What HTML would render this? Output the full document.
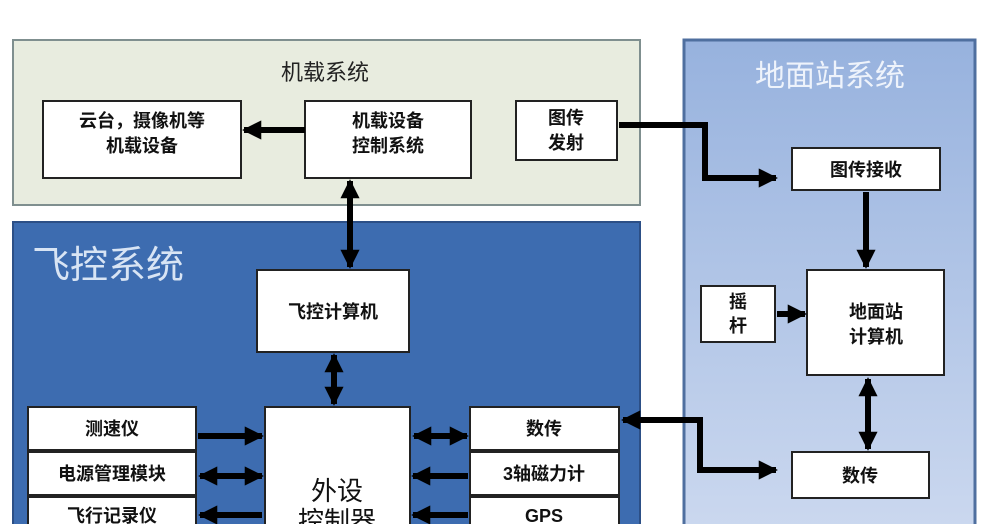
<!DOCTYPE html>
<html><head><meta charset="utf-8"><style>
html,body{margin:0;padding:0;background:#fff;width:1000px;height:524px;overflow:hidden}
text{font-family:"Liberation Sans","Noto Sans CJK SC",sans-serif}
</style></head><body>
<svg width="1000" height="524" viewBox="0 0 1000 524" xmlns="http://www.w3.org/2000/svg">
<defs>
<marker id="a" viewBox="0 0 10 10" refX="9" refY="5" markerWidth="3.2" markerHeight="3.2" orient="auto-start-reverse"><path d="M0,0 L10,5 L0,10 z" fill="#000"/></marker>
<linearGradient id="g" x1="0" y1="0" x2="0" y2="1"><stop offset="0" stop-color="#97b2de"/><stop offset="1" stop-color="#cbd8ef"/></linearGradient>
</defs>
<rect x="13" y="40" width="627" height="165" fill="#e8ecdf" stroke="#7f8f8f" stroke-width="2"/>
<text x="325" y="80" font-size="22" text-anchor="middle" fill="#222">机载系统</text>
<rect x="13" y="222" width="627" height="310" fill="#3d6cb0" stroke="#2c4f86" stroke-width="2"/>
<text x="32" y="278" font-size="38" fill="#d8e4f4">飞控系统</text>
<rect x="684" y="40" width="291" height="490" fill="url(#g)" stroke="#4f6f9f" stroke-width="3"/>
<text x="830" y="86" font-size="30" text-anchor="middle" fill="#eef3fb">地面站系统</text>
<g fill="#fff" stroke="#222" stroke-width="2">
<rect x="43" y="101" width="198" height="77"/>
<rect x="305" y="101" width="166" height="77"/>
<rect x="516" y="101" width="101" height="59"/>
<rect x="257" y="270" width="152" height="82"/>
<rect x="265" y="407" width="145" height="130"/>
<rect x="28" y="407" width="168" height="43"/>
<rect x="28" y="452" width="168" height="43"/>
<rect x="28" y="497" width="168" height="43"/>
<rect x="470" y="407" width="149" height="43"/>
<rect x="470" y="452" width="149" height="43"/>
<rect x="470" y="497" width="149" height="43"/>
<rect x="792" y="148" width="148" height="42"/>
<rect x="807" y="270" width="137" height="105"/>
<rect x="701" y="286" width="74" height="56"/>
<rect x="792" y="452" width="137" height="46"/>
</g>
<g font-size="18" text-anchor="middle" fill="#111" font-weight="bold">
<text x="142" y="127">云台，摄像机等</text><text x="142" y="152">机载设备</text>
<text x="388" y="127">机载设备</text><text x="388" y="152">控制系统</text>
<text x="566" y="124">图传</text><text x="566" y="149">发射</text>
<text x="333" y="318">飞控计算机</text>
<text x="112" y="435">测速仪</text>
<text x="112" y="480">电源管理模块</text>
<text x="112" y="522">飞行记录仪</text>
<text x="544" y="435">数传</text>
<text x="544" y="480">3轴磁力计</text>
<text x="544" y="522">GPS</text>
<text x="866" y="176">图传接收</text>
<text x="876" y="318">地面站</text><text x="876" y="343">计算机</text>
<text x="738" y="308">摇</text><text x="738" y="332">杆</text>
<text x="860" y="482">数传</text>
<text x="337" y="500" font-size="26" font-weight="normal">外设</text>
<text x="337" y="530" font-size="26" font-weight="normal">控制器</text>
</g>
<g stroke="#000" stroke-width="6" fill="none" marker-end="url(#a)">
<line x1="305" y1="130" x2="244" y2="130"/>
<line x1="350" y1="181" x2="350" y2="267" marker-start="url(#a)"/>
<line x1="334" y1="355" x2="334" y2="404" marker-start="url(#a)"/>
<line x1="198" y1="436" x2="262" y2="436"/>
<line x1="200" y1="476" x2="262" y2="476" marker-start="url(#a)"/>
<line x1="262" y1="515" x2="200" y2="515"/>
<line x1="414" y1="436" x2="467" y2="436" marker-start="url(#a)"/>
<line x1="468" y1="476" x2="413" y2="476"/>
<line x1="468" y1="515" x2="413" y2="515"/>
<polyline points="619,125 705,125 705,178 776,178"/>
<line x1="866" y1="192" x2="866" y2="267"/>
<line x1="777" y1="314" x2="805" y2="314"/>
<line x1="868" y1="379" x2="868" y2="449" marker-start="url(#a)"/>
<polyline points="623,420 700,420 700,470 776,470" marker-start="url(#a)"/>
</g>
</svg>
</body></html>
